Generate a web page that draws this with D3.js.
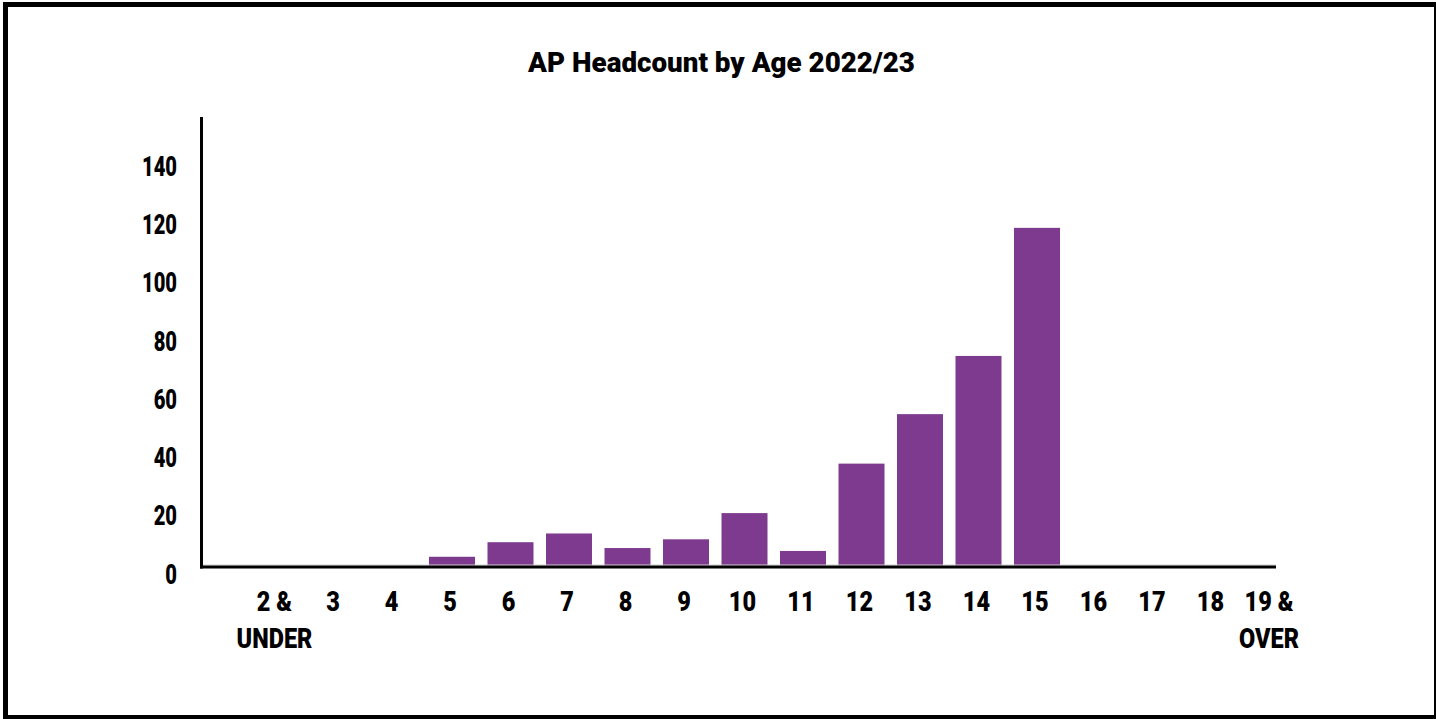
<!DOCTYPE html>
<html>
<head>
<meta charset="utf-8">
<script src="https://cdn.jsdelivr.net/npm/d3@7"></script>
<style>
  html, body { margin: 0; padding: 0; background: #fff; }
  svg { display: block; }
  text { font-family: "Roboto", "DejaVu Sans Condensed", sans-serif; font-weight: 900; fill: #000; }
</style>
</head>
<body>
<svg id="chart" width="1436" height="719"></svg>
<script>
// Age groups (multi-line labels split on "\n")
const categories = ["2 &\nUNDER", "3", "4", "5", "6", "7", "8", "9", "10", "11", "12", "13", "14", "15", "16", "17", "18", "19 &\nOVER"];
// Headcount per age group
const headcount = [0, 0, 0, 3, 8, 11, 6, 9, 18, 5, 35, 52, 72, 116, 0, 0, 0, 0];
// Value axis ticks
const yTicks = [0, 20, 40, 60, 80, 100, 120, 140];
const title = "AP Headcount by Age 2022/23";

const FONT_SIZE = 28;
const NUM_STRETCH = 0.72;   // condensed look for axis labels
const X_STRETCH = 0.84;
const TITLE_WIDTH = 387;

const svg = d3.select("#chart");

// outer frame
svg.append("rect")
  .attr("x", 5.5).attr("y", 4.5)
  .attr("width", 1431).attr("height", 713)
  .attr("fill", "#fff").attr("stroke", "#000").attr("stroke-width", 5);

const plot = { left: 201.5, right: 1276, top: 117, zeroY: 565.5 };

const x = d3.scaleBand()
  .domain(categories)
  .range([247.25, 1300.25])
  .paddingInner(0.2137)
  .paddingOuter(0.10685);

const y = d3.scaleLinear()
  .domain([0, 140])
  .range([plot.zeroY, 158]);

// title, condensed horizontally to its set width
const titleText = svg.append("text")
  .attr("text-anchor", "middle")
  .attr("font-size", FONT_SIZE)
  .text(title);
const tw = titleText.node().getComputedTextLength();
titleText.attr("transform", `translate(721.5,72) scale(${TITLE_WIDTH / tw},1)`);

// bars
svg.append("g").selectAll("rect")
  .data(categories.map((c, i) => ({ c, v: headcount[i] })).filter(d => d.v > 0))
  .join("rect")
  .attr("x", d => x(d.c))
  .attr("width", x.bandwidth())
  .attr("y", d => y(d.v))
  .attr("height", d => y(0) - y(d.v))
  .attr("fill", "#7D3A8E");

// y axis labels (no tick marks)
const yAxis = d3.axisLeft(y).tickValues(yTicks).tickSize(0).tickPadding(0);
const gy = svg.append("g").attr("transform", "translate(177,0)").call(yAxis);
gy.select(".domain").remove();
gy.selectAll("text")
  .attr("font-size", FONT_SIZE)
  .attr("font-family", null)
  .attr("dy", 17.5)
  .attr("x", 0)
  .attr("transform", `scale(${NUM_STRETCH},1)`);

// x axis labels
const gx = svg.append("g");
gx.selectAll("text")
  .data(categories)
  .join("text")
  .attr("text-anchor", "middle")
  .attr("font-size", FONT_SIZE)
  .attr("transform", d => `translate(${x(d) + x.bandwidth() / 2 - 2},611) scale(${X_STRETCH},1)`)
  .each(function(d) {
    const t = d3.select(this);
    d.split("\n").forEach((line, i) => {
      t.append("tspan").attr("x", 0).attr("y", i * 36.7).text(line);
    });
  });

// baseline: light rule plus heavy black axis line
svg.append("line")
  .attr("x1", plot.left).attr("x2", plot.right)
  .attr("y1", 565).attr("y2", 565)
  .attr("stroke", "#cfcfcf").attr("stroke-width", 1);
svg.append("line")
  .attr("x1", plot.left - 1.5).attr("x2", plot.right)
  .attr("y1", 567).attr("y2", 567)
  .attr("stroke", "#000").attr("stroke-width", 3);

// vertical value axis line
svg.append("line")
  .attr("x1", plot.left).attr("x2", plot.left)
  .attr("y1", plot.top).attr("y2", 568.5)
  .attr("stroke", "#000").attr("stroke-width", 3);
</script>
</body>
</html>
